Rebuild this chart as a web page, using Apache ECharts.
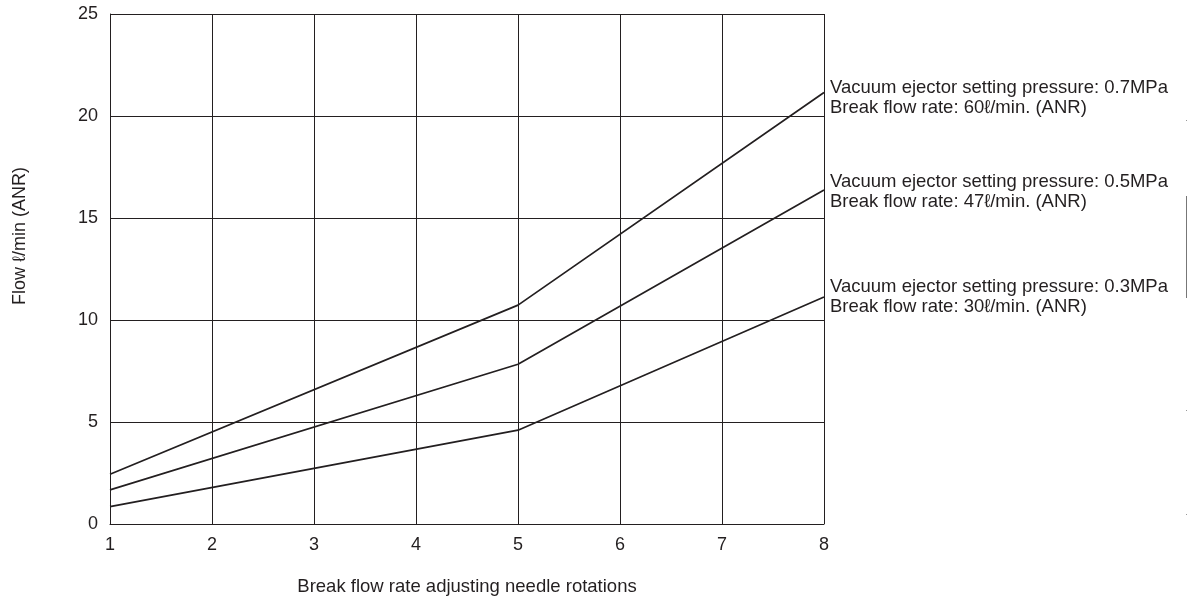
<!DOCTYPE html>
<html>
<head>
<meta charset="utf-8">
<script src="https://cdn.jsdelivr.net/npm/echarts@6/dist/echarts.min.js"></script>
<style>html,body{margin:0;padding:0;background:#fff;}#main{width:1188px;height:597px;}</style>
</head>
<body>
<div id="main"></div>
<script>
const rotations = [1, 5, 8];
const flow07 = [2.44, 10.73, 21.15];
const flow05 = [1.67, 7.83, 16.37];
const flow03 = [0.85, 4.6, 11.13];
const seriesLabels = [
  'Vacuum ejector setting pressure: 0.7MPa\nBreak flow rate: 60ℓ/min. (ANR)',
  'Vacuum ejector setting pressure: 0.5MPa\nBreak flow rate: 47ℓ/min. (ANR)',
  'Vacuum ejector setting pressure: 0.3MPa\nBreak flow rate: 30ℓ/min. (ANR)'
];
const xTitle = 'Break flow rate adjusting needle rotations';
const yTitle = 'Flow ℓ/min (ANR)';

const FONT = 'Liberation Sans, Arial, sans-serif';
const lineColor = '#231f20';
const offsets = [[-2, 5], [-2, 2], [-2, 0]];

function mk(vals, i) {
  return {
    type: 'line',
    data: rotations.map((r, k) => [r, vals[k]]),
    symbol: 'none',
    lineStyle: { color: lineColor, width: 1.7 },
    endLabel: {
      show: true,
      formatter: seriesLabels[i],
      color: '#231f20',
      fontFamily: FONT,
      fontSize: 18.5,
      lineHeight: 20,
      align: 'left',
      offset: offsets[i]
    },
    silent: true,
    animation: false
  };
}

const chart = echarts.init(document.getElementById('main'));
chart.setOption({
  backgroundColor: '#fff',
  animation: false,
  grid: { left: 110, right: 364, top: 14, bottom: 73, containLabel: false, outerBoundsMode: 'none' },
  xAxis: {
    type: 'value', min: 1, max: 8, interval: 1,
    name: xTitle, nameLocation: 'middle', nameGap: 53,
    nameTextStyle: { color: '#231f20', fontFamily: FONT, fontSize: 18.5 },
    axisLine: { show: true, lineStyle: { color: '#231f20', width: 1 } },
    axisTick: { show: false },
    axisLabel: { color: '#231f20', fontFamily: FONT, fontSize: 18, margin: 12 },
    splitLine: { show: true, lineStyle: { color: '#231f20', width: 1 } }
  },
  yAxis: {
    type: 'value', min: 0, max: 25, interval: 5,
    axisLine: { show: true, lineStyle: { color: '#231f20', width: 1 } },
    axisTick: { show: false },
    axisLabel: { color: '#231f20', fontFamily: FONT, fontSize: 18, margin: 12 },
    splitLine: { show: true, lineStyle: { color: '#231f20', width: 1 } }
  },
  series: [mk(flow07, 0), mk(flow05, 1), mk(flow03, 2)],
  graphic: [
    { type: 'text', x: 20, y: 236, rotation: Math.PI / 2,
      style: { text: yTitle, fill: '#231f20', font: '18px ' + FONT, align: 'center', verticalAlign: 'middle' } },
    { type: 'line', shape: { x1: 1186.5, y1: 196, x2: 1186.5, y2: 298 }, style: { stroke: '#777', lineWidth: 1 } },
    { type: 'rect', shape: { x: 1186, y: 120, width: 1, height: 1 }, style: { fill: '#999' } },
    { type: 'rect', shape: { x: 1186, y: 410, width: 1, height: 1 }, style: { fill: '#999' } },
    { type: 'rect', shape: { x: 1186, y: 514, width: 1, height: 1 }, style: { fill: '#999' } }
  ]
});
</script>
</body>
</html>
